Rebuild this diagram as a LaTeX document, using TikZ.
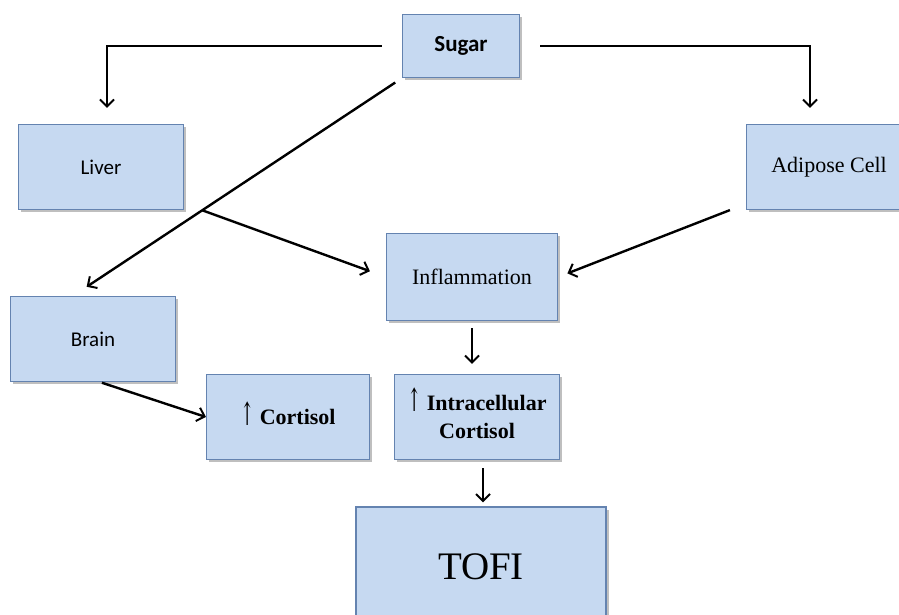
\documentclass[tikz,border=0pt]{standalone}
\usepackage{fontspec}
\setmainfont{Liberation Serif}
\newfontfamily\calibri{Carlito}
\newfontfamily\arrowfont{DejaVu Serif}
\usetikzlibrary{arrows.meta,shadows}

\definecolor{boxfill}{RGB}{198,217,241}
\definecolor{boxedge}{RGB}{100,131,176}

\newcommand{\upmark}{{\arrowfont\mdseries\raisebox{-1pt}[0pt][0pt]{\scalebox{0.75}[1.45]{↑}}}}

\tikzset{
    box/.style={draw=boxedge, fill=boxfill, line width=1.2pt, inner sep=2pt,
        minimum width=165pt, minimum height=85pt, align=center,
        drop shadow={shadow xshift=2.5pt, shadow yshift=-2.5pt, opacity=0.5},
        font=\fontsize{22}{28}\selectfont},
    sansbox/.style={box, font=\calibri\fontsize{21}{25}\selectfont},
    arr/.style={-{Straight Barb[length=7pt,width=14pt,line width=2pt]}, line width=2.4pt},
}

\begin{document}
\begin{tikzpicture}[x=1pt, y=-1pt]

    \clip (0,0) rectangle (899,614);

    \node[sansbox, minimum width=117pt, minimum height=63pt, font=\calibri\bfseries\fontsize{23}{27}\selectfont] (sugar) at (461,46) {Sugar};
    \node[sansbox] (liver) at (101,167) {Liver};
    \node[box] (adipose) at (829,167) {Adipose Cell};
    \node[box, minimum width=171pt, minimum height=87pt] (inflam) at (472,277) {Inflammation};
    \node[sansbox] (brain) at (93,339) {Brain};
    \node[box, minimum width=163pt, font=\bfseries\fontsize{22}{28}\selectfont] (cortisol) at (288,417) {\upmark\ Cortisol};
    \node[box, font=\bfseries\fontsize{22}{28}\selectfont] (intra) at (477,417) {\upmark\ Intracellular\\Cortisol};
    \node[box, minimum width=250pt, minimum height=120pt, font=\fontsize{39}{44}\selectfont] (tofi) at (481,567) {TOFI};

    % sugar branches
    \draw[arr, shorten >=16pt] ([xshift=-20pt]sugar.west) -| ([xshift=6pt]liver.north);
    \draw[arr, shorten >=16pt] ([xshift=20pt]sugar.east) -| ([xshift=-19pt]adipose.north);
    \draw[arr, shorten <=8pt, shorten >=2pt] (sugar.south west) -- ([xshift=-8pt,yshift=8pt]brain.north)
        coordinate[pos=0.63] (split);

    % into inflammation
    \draw[arr, shorten >=17pt] (split) -- (inflam.west);
    \draw[arr, shorten >=10pt] ([xshift=-16pt]adipose.south west) -- (inflam.east);

    % down to tofi
    \draw[arr, shorten <=7pt, shorten >=10pt] (inflam.south) -- (inflam.south |- intra.north);
    \draw[arr, shorten <=2pt] ([xshift=7pt]brain.south) -- (cortisol.west);
    \draw[arr, shorten <=8pt, shorten >=4pt] ([xshift=6pt]intra.south) -- ([xshift=2pt]tofi.north);

\end{tikzpicture}
\end{document}
